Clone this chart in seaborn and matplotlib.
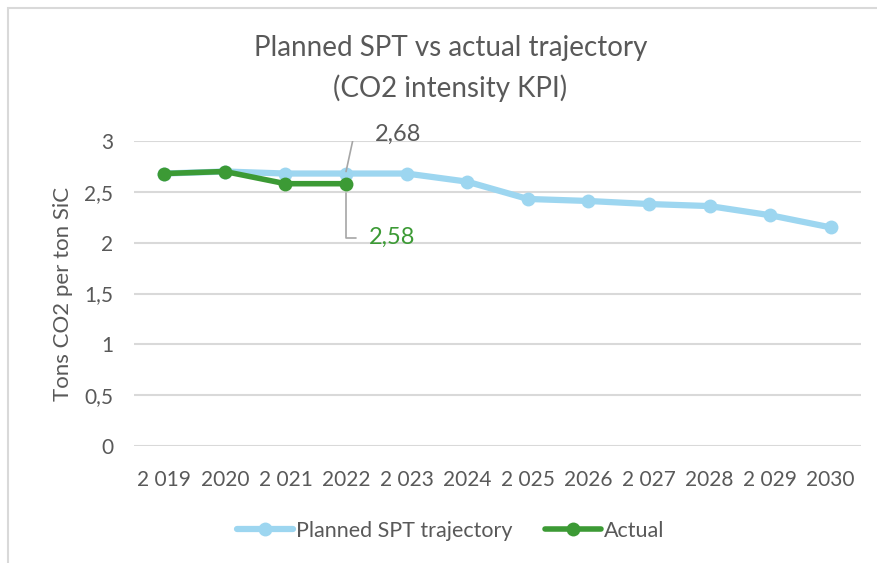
import numpy as np
import pandas as pd
import matplotlib
matplotlib.use("Agg")
import matplotlib.pyplot as plt
import matplotlib.transforms as mtransforms
import seaborn as sns

### data
years = ["2 019", "2020", "2 021", "2022", "2 023", "2024",
         "2 025", "2026", "2 027", "2028", "2 029", "2030"]
planned = [2.68, 2.70, 2.68, 2.68, 2.68, 2.60, 2.43, 2.41, 2.38, 2.36, 2.27, 2.15]
actual = [2.68, 2.70, 2.58, 2.58]
y_ticks = [0, 0.5, 1, 1.5, 2, 2.5, 3]
y_ticklabels = ["0", "0,5", "1", "1,5", "2", "2,5", "3"]

blue = "#9dd6f0"
green = "#3c9a35"
grey = "#595959"

sns.set_theme(style="white")
plt.rcParams['font.family'] = ['Lato', 'DejaVu Sans']

fig = plt.figure(figsize=(8.78, 5.63), dpi=100)
ax = fig.add_axes([134 / 878, 1 - 446 / 563, 727 / 878, 305 / 563])

df_plan = pd.DataFrame({"x": np.arange(len(years)), "y": planned})
df_act = pd.DataFrame({"x": np.arange(len(actual)), "y": actual})

sns.lineplot(data=df_plan, x="x", y="y", ax=ax, color=blue, lw=4.5, marker="o",
             markersize=10, markeredgewidth=0, sort=False, label="Planned SPT trajectory", zorder=3)
sns.lineplot(data=df_act, x="x", y="y", ax=ax, color=green, lw=4, marker="o",
             markersize=10, markeredgewidth=0, sort=False, label="Actual", zorder=4)

ax.set_xlim(-0.5, len(years) - 0.5)
ax.set_ylim(0, 3)
ax.set_xticks(np.arange(len(years)))
ax.set_xticklabels(years)
ax.set_yticks(y_ticks)
ax.set_yticklabels(y_ticklabels)
ax.tick_params(axis="both", length=0, labelsize=15, colors=grey)
ax.tick_params(axis="x", pad=17)
ax.tick_params(axis="y", pad=15)
ax.yaxis.grid(True, color="#d9d9d9", lw=1.5)
ax.set_axisbelow(True)
for s in ax.spines.values():
    s.set_visible(False)
ax.set_xlabel("")
ax.set_ylabel("Tons CO2 per ton SiC", fontsize=16, color=grey, labelpad=8)

fig.text(0.513, 1 - 48 / 563, "Planned SPT vs actual trajectory", ha="center", va="center",
         fontsize=20, color=grey)
fig.text(0.513, 1 - 88 / 563, "(CO2 intensity KPI)", ha="center", va="center",
         fontsize=20, color=grey)

# data labels with leader lines on 2022
def off(dx, dy):
    return mtransforms.offset_copy(ax.transData, fig=fig, x=dx, y=dy, units="dots")

i = 3
tr = ax.transData
pts = [(0, 2), (8, 39), (21, 39)]
px, py = tr.transform((i, planned[i]))
lp = np.array([[px + dx, py + dy] for dx, dy in pts])
ax.plot(*tr.inverted().transform(lp).T, color="#a6a6a6", lw=1.2, zorder=5)
ax.text(i, planned[i], "{:.2f}".format(planned[i]).replace(".", ","), transform=off(29, 39),
        ha="left", va="center", fontsize=17, color=grey)

pts2 = [(0, -9), (0, -54), (10, -54)]
px2, py2 = tr.transform((i, actual[i]))
lp2 = np.array([[px2 + dx, py2 + dy] for dx, dy in pts2])
ax.plot(*tr.inverted().transform(lp2).T, color="#a6a6a6", lw=1.2, zorder=5)
ax.text(i, actual[i], "{:.2f}".format(actual[i]).replace(".", ","), transform=off(23, -54),
        ha="left", va="center", fontsize=17, color=green)

ax.get_legend().remove()
h, l = ax.get_legend_handles_labels()
fig.legend(h, l, loc="center", bbox_to_anchor=(0.513, 1 - 531 / 563), ncol=2, frameon=False,
           fontsize=15.5, labelcolor=grey, handlelength=2.6, handletextpad=0.15, columnspacing=1.5)

# chart border
fig.patches.append(plt.Rectangle((8 / 878, -0.05), 1.2, 1 - 8 / 563 + 0.05, transform=fig.transFigure,
                                 fill=False, edgecolor="#d9d9d9", lw=1.5))

fig.savefig("out.png", dpi=100)
